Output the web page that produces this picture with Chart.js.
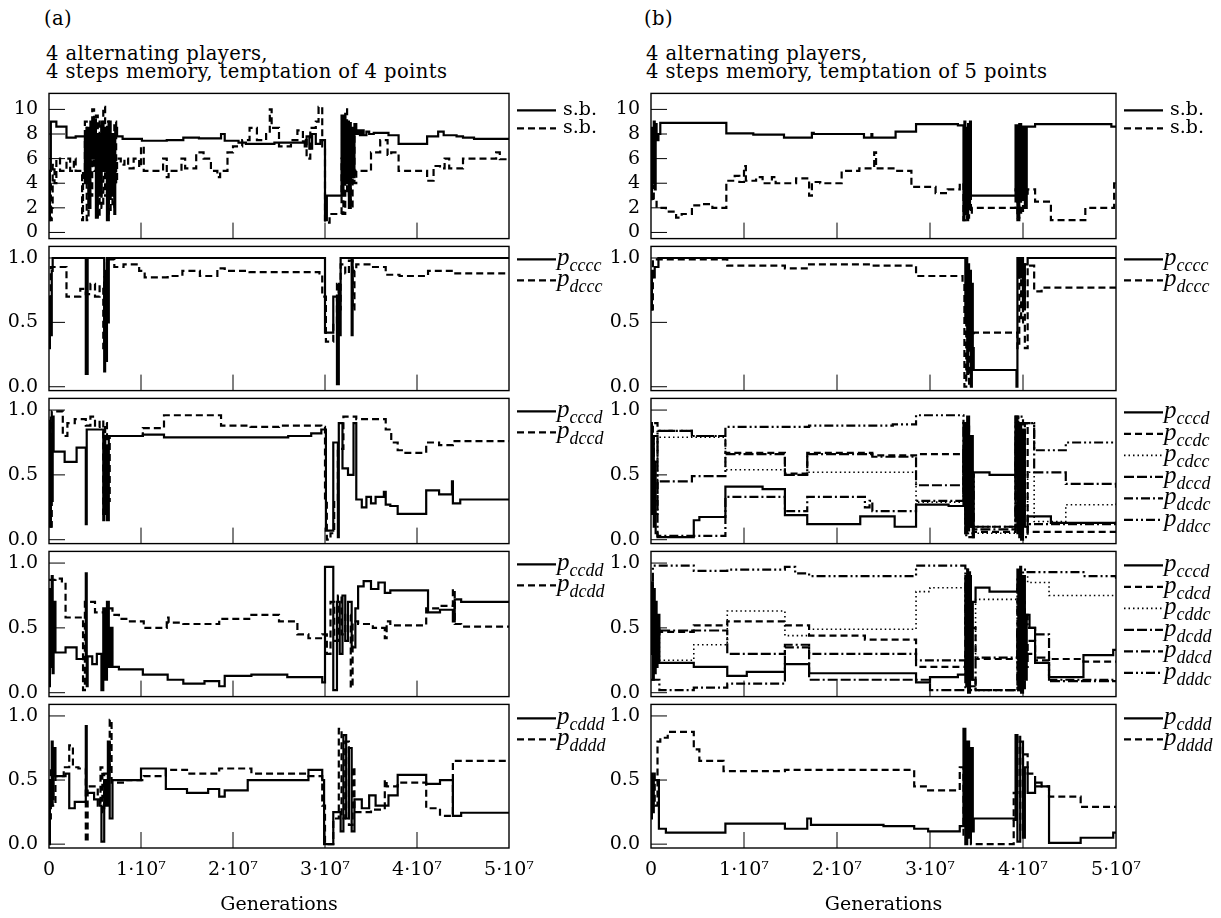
<!DOCTYPE html>
<html>
<head>
<meta charset="utf-8">
<script src="https://cdn.jsdelivr.net/npm/chart.js@4.4.0/dist/chart.umd.min.js"></script>
<style>
  body { margin: 0; background: #fff; width: 1221px; height: 918px; position: relative; overflow: hidden; }
  .hdr { position: absolute; font-family: "DejaVu Serif", serif; font-size: 19.5px; line-height: 20px; letter-spacing: 0.4px; color: #000; white-space: nowrap; }
  .panel { position: absolute; }
</style>
</head>
<body>
<div class="hdr" style="left:44px;top:9px">(a)</div>
<div class="hdr" style="left:46px;top:44px">4 alternating players,</div>
<div class="hdr" style="left:46px;top:62px">4 steps memory, temptation of 4 points</div>
<div class="hdr" style="left:644px;top:9px">(b)</div>
<div class="hdr" style="left:646px;top:44px">4 alternating players,</div>
<div class="hdr" style="left:646px;top:62px">4 steps memory, temptation of 5 points</div>

<script>
// generations are in units of 10^7
const genTicks = [0, 1, 2, 3, 4, 5];
const sbTicks = [0, 2, 4, 6, 8, 10];
const probTicks = [0, 0.5, 1];

// ---- column (a): temptation of 4 points ----
const sbSolidA = [[0,1],[0.01,5],[0.02,9],[0.08,8.6],[0.19,7.7],[0.29,7.8],[0.39,4],[0.41,8.5],[0.43,2],[0.45,9],[0.47,6],[0.49,9.2],[0.51,1.2],[0.53,8],[0.55,3],[0.57,9],[0.59,5],[0.61,8.5],[0.63,1],[0.65,9],[0.67,3],[0.69,8],[0.71,1.5],[0.72,8.5],[0.74,7.8],[0.8,7.6],[1.01,7.45],[1.28,7.5],[1.46,7.7],[1.63,7.65],[1.87,8.0],[1.91,7.45],[2.06,7.3],[2.14,7.2],[2.45,7.3],[2.76,7.4],[2.78,7],[2.8,7.8],[2.83,6.8],[2.86,8],[2.9,7.2],[2.95,7.5],[3.0,1],[3.02,3],[3.18,9.5],[3.19,3],[3.2,9.5],[3.22,4],[3.24,9],[3.26,2],[3.28,8.5],[3.3,4.5],[3.32,8.8],[3.34,8.0],[3.36,8.3],[3.38,7.9],[3.4,8.3],[3.42,7.9],[3.45,8.2],[3.48,8],[3.53,8.1],[3.69,7.9],[3.8,7.2],[4.11,7.8],[4.23,8.2],[4.29,7.9],[4.43,7.8],[4.5,7.7],[4.62,7.6],[5,7.6]];
const sbDashA = [[0,1.5],[0.01,4],[0.02,1],[0.03,2],[0.04,5.5],[0.06,4],[0.08,6],[0.12,5],[0.19,6],[0.23,5],[0.27,6],[0.29,5],[0.36,1],[0.37,5],[0.39,9],[0.41,1],[0.43,8],[0.45,3],[0.47,10],[0.49,5],[0.51,9.5],[0.53,1.2],[0.55,9],[0.57,2],[0.59,10.2],[0.61,3],[0.63,9],[0.65,1.5],[0.67,8],[0.69,2],[0.71,9],[0.73,4],[0.74,6],[0.78,5.5],[0.82,6],[0.86,5.2],[0.92,6],[0.98,5.3],[1.0,7],[1.03,5],[1.24,6],[1.28,4.5],[1.3,5],[1.44,6],[1.48,5.2],[1.6,6.5],[1.68,6],[1.76,5],[1.83,4.5],[1.86,5],[1.94,6.5],[2.0,7],[2.1,7.5],[2.18,8.5],[2.26,7.5],[2.36,8],[2.4,10],[2.42,8.5],[2.5,7],[2.63,7.5],[2.7,8.3],[2.76,7.5],[2.8,6],[2.84,8.5],[2.9,9],[2.93,10.2],[2.97,7],[3.0,0.8],[3.05,1.5],[3.18,6],[3.2,1.5],[3.22,10],[3.24,3],[3.26,9],[3.28,2],[3.3,8],[3.32,4],[3.34,5],[3.5,6.5],[3.6,7.5],[3.68,6.3],[3.72,6.5],[3.8,5],[4.11,4.2],[4.18,5.4],[4.25,5.2],[4.3,6],[4.35,5.2],[4.5,6],[4.86,6.5],[4.9,5.95],[5,5.95]];
const pccccA = [[0,0.3],[0.01,0.7],[0.02,0.4],[0.03,0.9],[0.04,1.0],[0.4,0.1],[0.42,1.0],[0.6,0.12],[0.61,0.9],[0.62,0.2],[0.63,1.0],[0.64,0.5],[0.65,1.0],[3.0,0.42],[3.09,0.7],[3.13,0.02],[3.15,0.8],[3.16,0.4],[3.17,1.0],[3.29,0.4],[3.3,1.0],[5,1.0]];
const pdcccA = [[0,0.5],[0.02,0.93],[0.19,0.7],[0.34,0.76],[0.4,0.72],[0.45,0.8],[0.5,0.7],[0.55,0.78],[0.59,0.3],[0.6,0.85],[0.63,0.99],[0.71,0.93],[0.81,0.95],[0.98,0.9],[1.04,0.85],[1.29,0.86],[1.45,0.9],[1.64,0.86],[1.83,0.92],[1.91,0.9],[2.18,0.89],[2.94,0.88],[2.97,0.7],[3.01,0.35],[3.09,0.5],[3.13,0.8],[3.15,0.6],[3.17,0.95],[3.22,0.88],[3.26,0.98],[3.3,0.6],[3.32,0.9],[3.34,0.95],[3.5,0.93],[3.66,0.87],[3.81,0.86],[4.12,0.9],[4.39,0.88],[5,0.88]];
const pcccdA = [[0,0.9],[0.01,0.1],[0.02,0.8],[0.03,0.3],[0.04,0.95],[0.05,0.68],[0.17,0.6],[0.3,0.71],[0.4,0.12],[0.41,0.85],[0.59,0.15],[0.6,0.8],[0.61,0.2],[0.62,0.7],[0.63,0.15],[0.65,0.8],[1.02,0.81],[1.25,0.79],[2.6,0.8],[2.85,0.82],[2.96,0.85],[3.01,0.07],[3.09,0.75],[3.14,0.02],[3.15,0.9],[3.19,0.55],[3.25,0.5],[3.31,0.9],[3.34,0.31],[3.4,0.25],[3.45,0.33],[3.5,0.28],[3.55,0.33],[3.64,0.37],[3.66,0.27],[3.71,0.26],[3.79,0.2],[4.1,0.38],[4.24,0.35],[4.38,0.45],[4.39,0.28],[4.47,0.31],[5,0.31]];
const pdccdA = [[0,0.2],[0.01,0.95],[0.02,0.1],[0.03,0.99],[0.15,0.8],[0.2,0.9],[0.28,0.93],[0.4,0.88],[0.45,0.95],[0.5,0.87],[0.55,0.92],[0.59,0.2],[0.61,0.9],[0.63,0.3],[0.66,0.8],[1.02,0.86],[1.25,0.96],[1.87,0.88],[2.19,0.87],[2.5,0.88],[2.96,0.87],[3.0,0.3],[3.02,0.0],[3.06,0.05],[3.1,0.3],[3.14,0.7],[3.2,0.95],[3.34,0.93],[3.66,0.85],[3.72,0.75],[3.79,0.69],[3.85,0.67],[4.1,0.75],[4.24,0.73],[4.39,0.76],[5,0.76]];
const pccddA = [[0,0.05],[0.01,0.8],[0.02,0.2],[0.03,0.9],[0.04,0.15],[0.05,0.7],[0.07,0.31],[0.18,0.35],[0.3,0.26],[0.4,0.92],[0.41,0.05],[0.42,0.28],[0.47,0.22],[0.52,0.3],[0.57,0.02],[0.59,0.65],[0.61,0.1],[0.63,0.7],[0.65,0.2],[0.67,0.5],[0.69,0.2],[0.76,0.18],[1.02,0.14],[1.29,0.1],[1.46,0.07],[1.69,0.09],[1.85,0.05],[1.91,0.13],[2.2,0.14],[2.59,0.12],[2.97,0.08],[3.0,0.97],[3.09,0.02],[3.13,0.7],[3.16,0.3],[3.19,0.75],[3.22,0.4],[3.25,0.7],[3.29,0.35],[3.33,0.65],[3.36,0.82],[3.42,0.86],[3.5,0.8],[3.58,0.85],[3.65,0.77],[3.71,0.79],[4.12,0.62],[4.25,0.64],[4.39,0.55],[4.41,0.72],[4.48,0.7],[5,0.7]];
const pdcddA = [[0,0.87],[0.07,0.88],[0.14,0.85],[0.18,0.58],[0.37,0.02],[0.39,0.7],[0.5,0.62],[0.65,0.65],[0.69,0.6],[0.76,0.57],[0.88,0.55],[1.03,0.5],[1.28,0.58],[1.3,0.54],[1.46,0.53],[1.85,0.57],[2.2,0.6],[2.5,0.55],[2.7,0.45],[2.82,0.42],[2.97,0.45],[3.02,0.3],[3.06,0.7],[3.1,0.4],[3.14,0.75],[3.18,0.45],[3.22,0.6],[3.28,0.04],[3.3,0.55],[3.36,0.53],[3.52,0.5],[3.65,0.42],[3.67,0.55],[3.71,0.52],[4.1,0.65],[4.25,0.67],[4.39,0.8],[4.41,0.53],[4.48,0.51],[5,0.51]];
const pcdddA = [[0,0.0],[0.01,0.5],[0.02,0.3],[0.03,0.8],[0.04,0.35],[0.05,0.75],[0.07,0.53],[0.18,0.55],[0.22,0.28],[0.28,0.33],[0.4,0.92],[0.41,0.4],[0.49,0.35],[0.55,0.3],[0.57,0.02],[0.6,0.5],[0.62,0.3],[0.64,0.8],[0.66,0.2],[0.69,0.5],[1.0,0.59],[1.27,0.43],[1.5,0.4],[1.73,0.43],[1.85,0.37],[1.91,0.42],[2.16,0.5],[2.82,0.58],[2.97,0.5],[2.99,0.0],[3.09,0.25],[3.17,0.1],[3.2,0.85],[3.23,0.2],[3.26,0.75],[3.29,0.1],[3.32,0.35],[3.4,0.28],[3.48,0.38],[3.55,0.3],[3.65,0.3],[3.69,0.38],[3.79,0.54],[4.1,0.47],[4.25,0.5],[4.39,0.22],[4.48,0.245],[5,0.245]];
const pddddA = [[0,0.2],[0.02,0.6],[0.04,0.3],[0.07,0.53],[0.16,0.6],[0.22,0.77],[0.26,0.6],[0.32,0.59],[0.4,0.02],[0.42,0.45],[0.53,0.3],[0.56,0.6],[0.58,0.25],[0.6,0.55],[0.66,0.97],[0.68,0.48],[0.84,0.5],[1.03,0.53],[1.27,0.58],[1.5,0.55],[1.85,0.59],[2.2,0.55],[2.82,0.53],[2.97,0.3],[3.0,0.0],[3.09,0.2],[3.15,0.9],[3.18,0.2],[3.22,0.8],[3.26,0.15],[3.3,0.6],[3.32,0.25],[3.5,0.27],[3.65,0.5],[3.67,0.45],[3.79,0.48],[4.1,0.28],[4.25,0.22],[4.39,0.65],[5,0.65]];

// ---- column (b): temptation of 5 points ----
const sbSolidB = [[0,3.2],[0.01,8.5],[0.02,4],[0.03,9],[0.04,3.5],[0.05,8.8],[0.06,7.5],[0.08,8],[0.1,8.9],[0.81,8.05],[1.1,7.95],[1.43,7.7],[1.73,8.1],[1.75,8.0],[2.29,7.7],[2.37,8.0],[2.38,7.7],[2.63,8.2],[2.85,8.8],[3.3,8.7],[3.36,1.0],[3.37,9],[3.38,1.5],[3.39,8.5],[3.4,1],[3.41,8.8],[3.42,2],[3.43,9],[3.44,3],[3.45,3.0],[3.92,8.7],[3.94,1.2],[3.96,8.8],[3.98,3],[4.0,8.6],[4.02,2],[4.04,8.6],[4.13,8.8],[4.95,8.6],[5,8.6]];
const sbDashB = [[0,4],[0.01,2.5],[0.02,3.8],[0.03,2.6],[0.06,2.0],[0.16,1.7],[0.27,1.2],[0.33,1.5],[0.44,2.2],[0.53,2.3],[0.66,2.0],[0.81,4.2],[0.9,4.6],[0.95,4.1],[1.0,5.4],[1.02,4.2],[1.13,4.5],[1.2,4.0],[1.3,4.5],[1.34,4.0],[1.56,4.4],[1.7,3.0],[1.73,4.1],[1.82,4.0],[2.05,5.0],[2.24,5.2],[2.4,6.5],[2.42,5.2],[2.63,5.0],[2.8,3.7],[3.06,3.2],[3.19,3.5],[3.32,4.0],[3.36,1],[3.38,8],[3.4,1.2],[3.42,6],[3.44,1.5],[3.45,2.0],[3.92,3.5],[3.94,1.0],[3.96,4.0],[3.98,1.5],[4.0,3.0],[4.05,3.5],[4.13,2.5],[4.3,1.0],[4.67,2.0],[4.98,4.0],[5,4.0]];
const pccccB = [[0,0.6],[0.01,0.9],[0.02,0.85],[0.04,0.93],[0.08,1.0],[3.38,0.5],[3.39,1],[3.4,0.1],[3.41,0.95],[3.42,0.3],[3.43,0.9],[3.44,0.0],[3.45,0.8],[3.46,0.3],[3.47,0.13],[3.93,0.0],[3.94,1.0],[3.96,0.85],[3.98,1.0],[4.0,0.6],[4.02,0.95],[4.05,1.0],[5,1.0]];
const pdcccB = [[0,0.6],[0.02,0.99],[0.82,0.94],[1.44,0.92],[1.7,0.95],[2.38,0.94],[2.85,0.86],[3.35,0.8],[3.37,0.0],[3.39,0.6],[3.42,0.0],[3.44,0.4],[3.47,0.42],[3.94,0.3],[3.96,1.0],[3.98,0.5],[4.0,0.95],[4.02,0.3],[4.05,0.94],[4.12,0.74],[4.2,0.77],[5,0.76]];
const pcccdB = [[0,0.9],[0.01,0.2],[0.02,0.8],[0.03,0.1],[0.04,0.6],[0.05,0.05],[0.07,0.02],[0.46,0.15],[0.52,0.175],[0.8,0.41],[1.2,0.39],[1.44,0.19],[1.68,0.12],[2.25,0.18],[2.62,0.1],[2.85,0.27],[3.2,0.26],[3.36,0.9],[3.38,0.05],[3.4,0.95],[3.42,0.1],[3.44,0.8],[3.46,0.02],[3.47,0.52],[3.64,0.5],[3.92,0.95],[3.94,0.05],[3.96,0.9],[3.98,0.0],[4.0,0.85],[4.02,0.1],[4.05,0.18],[4.3,0.13],[5,0.14]];
const pccdcB = [[0,0.5],[0.02,0.9],[0.07,0.84],[0.44,0.8],[0.8,0.67],[1.44,0.51],[1.68,0.67],[2.38,0.65],[2.85,0.66],[3.36,0.3],[3.39,0.9],[3.42,0.05],[3.47,0.06],[3.92,0.8],[3.94,0.1],[4.0,0.9],[4.05,0.06],[5,0.06]];
const pcdccB = [[0,0.3],[0.07,0.79],[0.8,0.54],[1.44,0.5],[1.68,0.52],[2.85,0.29],[3.36,0.6],[3.4,0.1],[3.47,0.05],[3.92,0.5],[3.96,0.1],[4.05,0.52],[4.12,0.14],[4.46,0.27],[5,0.29]];
const pdccdB = [[0,0.7],[0.02,0.2],[0.07,0.45],[0.44,0.49],[0.8,0.66],[1.44,0.5],[1.68,0.66],[2.38,0.64],[2.85,0.42],[3.36,0.9],[3.38,0.1],[3.47,0.08],[3.92,0.95],[3.95,0.2],[4.02,0.9],[4.12,0.52],[4.46,0.43],[5,0.4]];
const pdcdcB = [[0,0.4],[0.03,0.8],[0.07,0.03],[0.8,0.33],[1.44,0.22],[1.68,0.33],[2.3,0.25],[2.35,0.3],[2.38,0.22],[2.62,0.22],[2.85,0.3],[3.36,0.7],[3.39,0.02],[3.47,0.1],[3.92,0.7],[3.96,0.02],[4.05,0.12],[5,0.13]];
const pddccB = [[0,0.6],[0.07,0.84],[0.44,0.8],[0.8,0.87],[1.7,0.88],[2.6,0.89],[2.85,0.96],[3.36,0.9],[3.38,0.05],[3.41,0.5],[3.47,0.1],[3.92,0.9],[3.95,0.95],[4.0,0.9],[4.12,0.69],[4.46,0.75],[5,0.75]];
const pcccd4B = [[0,0.3],[0.01,0.85],[0.02,0.1],[0.03,0.8],[0.04,0.15],[0.05,0.7],[0.06,0.2],[0.07,0.6],[0.09,0.23],[0.46,0.2],[0.82,0.13],[1.03,0.16],[1.44,0.22],[1.7,0.15],[2.4,0.15],[2.85,0.08],[3.0,0.12],[3.3,0.14],[3.38,0.9],[3.39,0.05],[3.4,0.95],[3.41,0.0],[3.43,0.9],[3.44,0.1],[3.46,0.7],[3.49,0.81],[3.64,0.78],[3.94,0.95],[3.95,0.02],[3.97,0.97],[3.98,0.0],[4.0,0.9],[4.02,0.1],[4.04,0.6],[4.07,0.5],[4.13,0.23],[4.28,0.12],[4.65,0.29],[4.97,0.33],[5,0.33]];
const pcdcdB = [[0,0.4],[0.02,0.5],[0.09,0.47],[0.46,0.52],[0.82,0.55],[1.44,0.52],[1.7,0.44],[2.3,0.41],[2.85,0.2],[3.38,0.6],[3.4,0.1],[3.43,0.5],[3.49,0.26],[3.94,0.8],[3.96,0.1],[3.99,0.7],[4.02,0.2],[4.05,0.4],[4.13,0.25],[4.28,0.26],[4.65,0.24],[5,0.24]];
const pcddcB = [[0,0.5],[0.09,0.25],[0.46,0.37],[0.82,0.63],[1.44,0.44],[1.7,0.49],[2.85,0.78],[3.0,0.81],[3.38,0.5],[3.41,0.9],[3.44,0.3],[3.49,0.72],[3.94,0.6],[3.97,0.2],[4.0,0.9],[4.05,0.85],[4.13,0.85],[4.28,0.75],[5,0.75]];
const pdcddB = [[0,0.45],[0.09,0.48],[0.82,0.3],[1.44,0.37],[1.7,0.1],[2.85,0.1],[3.0,0.02],[3.38,0.3],[3.42,0.05],[3.49,0.02],[3.94,0.5],[3.97,0.02],[4.0,0.6],[4.05,0.5],[4.13,0.45],[4.28,0.09],[5,0.09]];
const pddcdB = [[0,0.1],[0.09,0.02],[0.46,0.04],[0.82,0.07],[1.44,0.35],[1.7,0.3],[2.85,0.25],[3.38,0.2],[3.42,0.02],[3.49,0.27],[3.94,0.5],[3.97,0.02],[4.02,0.3],[4.13,0.27],[4.28,0.1],[5,0.1]];
const pdddcB = [[0,0.7],[0.02,0.98],[0.46,0.94],[0.82,0.95],[1.44,0.97],[1.55,0.92],[1.7,0.9],[2.85,0.98],[3.38,0.5],[3.4,0.95],[3.43,0.1],[3.49,0.02],[3.94,0.9],[3.97,0.1],[4.0,0.95],[4.05,0.93],[4.65,0.9],[5,0.88]];
const pcdddB = [[0,0.2],[0.01,0.55],[0.02,0.25],[0.03,0.5],[0.05,0.5],[0.085,0.12],[0.16,0.09],[0.8,0.16],[1.44,0.12],[1.68,0.2],[1.72,0.15],[2.5,0.14],[2.83,0.12],[2.98,0.1],[3.32,0.14],[3.36,0.9],[3.38,0.0],[3.4,0.8],[3.42,0.05],[3.44,0.75],[3.46,0.1],[3.47,0.2],[3.9,0.19],[3.92,0.85],[3.94,0.02],[3.97,0.8],[4.0,0.05],[4.02,0.6],[4.05,0.4],[4.13,0.48],[4.2,0.45],[4.28,0.01],[4.62,0.05],[4.97,0.09],[5,0.09]];
const pddddB = [[0,0.4],[0.02,0.55],[0.04,0.3],[0.07,0.8],[0.1,0.83],[0.18,0.875],[0.46,0.74],[0.52,0.65],[0.78,0.57],[1.44,0.58],[2.83,0.45],[2.98,0.42],[3.32,0.6],[3.36,0.05],[3.4,0.5],[3.44,0.0],[3.47,0.0],[3.9,0.4],[3.94,0.85],[3.97,0.1],[4.0,0.7],[4.05,0.55],[4.13,0.45],[4.28,0.37],[4.62,0.29],[5,0.29]];

// line styles
const SOLID = [], DASH = [7, 4], DOT = [1.5, 3], LDASH = [10, 3, 10, 3, 2, 3], DDOT = [9, 3, 2, 3], D2DOT = [9, 3, 2, 3, 2, 3];

const rowTop = [93, 246, 398, 551, 704];
const rowBottom = [238, 390, 543, 696, 848];
const colLeft = [0, 600];
const colWidth = [620, 621];
const axisWidth = [49, 51];
const padRight = [111, 105];

const serif = '"DejaVu Serif", serif';

const framePlugin = {
  id: 'frame',
  afterDatasetsDraw(chart, args, opts) {
    const { ctx, chartArea: a, scales } = chart;
    ctx.save();
    ctx.strokeStyle = '#000';
    ctx.fillStyle = '#000';
    ctx.lineWidth = 1.4;
    ctx.strokeRect(a.left, a.top, a.right - a.left, a.bottom - a.top);
    ctx.lineWidth = 1;
    scales.y.ticks.forEach(t => {
      const y = scales.y.getPixelForValue(t.value);
      ctx.beginPath(); ctx.moveTo(a.left, y); ctx.lineTo(a.left + 16, y); ctx.stroke();
    });
    scales.x.ticks.forEach(t => {
      if (t.value <= 0 || t.value >= 5) return;
      const x = scales.x.getPixelForValue(t.value);
      ctx.beginPath(); ctx.moveTo(x, a.bottom); ctx.lineTo(x, a.bottom - 16); ctx.stroke();
    });
    // legend to the right of the frame
    chart.data.datasets.forEach((ds, i) => {
      const y = a.top + opts.first + i * opts.step;
      ctx.setLineDash(ds.borderDash);
      ctx.lineWidth = ds.borderWidth;
      ctx.beginPath(); ctx.moveTo(a.right + 8, y); ctx.lineTo(a.right + 47, y); ctx.stroke();
      ctx.setLineDash([]);
      if (ds.label.startsWith('p_')) {
        ctx.textBaseline = 'alphabetic';
        ctx.font = 'italic 25px "Liberation Serif"';
        ctx.fillText('p', a.right + 48, y + 6);
        const w = ctx.measureText('p').width;
        ctx.font = 'italic 18px "Liberation Serif"';
        ctx.fillText(ds.label.slice(2), a.right + 48 + w, y + 12);
      } else {
        ctx.textBaseline = 'middle';
        ctx.font = '19px ' + serif;
        ctx.fillText(ds.label, a.right + 54, y);
      }
    });
    ctx.restore();
  }
};

function panelConfig(col, last, series, yMin, yMax, yTicks, legendFirst, legendStep) {
  const tickFont = { family: serif, size: 19 };
  return {
    type: 'line',
    data: {
      datasets: series.map(s => ({
        label: s.label,
        data: s.data.map(([x, y]) => ({ x, y })),
        borderColor: '#000',
        borderWidth: s.dash === DOT ? 1.6 : 2.2,
        borderDash: s.dash,
        stepped: true,
        pointRadius: 0,
        fill: false
      }))
    },
    options: {
      responsive: false,
      maintainAspectRatio: false,
      animation: false,
      layout: { padding: { top: 2, bottom: last ? 0 : 2, left: 0, right: padRight[col] } },
      plugins: {
        legend: { display: false },
        tooltip: { enabled: false },
        frame: { first: legendFirst, step: legendStep }
      },
      scales: {
        x: {
          type: 'linear',
          min: 0,
          max: 5,
          grid: { display: false, drawTicks: false },
          border: { display: false },
          afterBuildTicks: s => { s.ticks = genTicks.map(v => ({ value: v })); },
          afterFit: s => { s.height = last ? 70 : 0; },
          ticks: {
            display: last,
            autoSkip: false,
            maxRotation: 0,
            padding: 11,
            color: '#000',
            font: tickFont,
            callback: v => v === 0 ? '0' : v + '·10⁷'
          },
          title: {
            display: last,
            text: 'Generations',
            color: '#000',
            font: { family: serif, size: 19 },
            padding: { top: 0, bottom: 2 }
          }
        },
        y: {
          type: 'linear',
          min: yMin,
          max: yMax,
          grid: { display: false, drawTicks: false },
          border: { display: false },
          afterBuildTicks: s => { s.ticks = yTicks.map(v => ({ value: v })); },
          afterFit: s => { s.width = axisWidth[col]; },
          ticks: {
            padding: 11,
            color: '#000',
            font: tickFont,
            callback: v => yTicks === sbTicks ? String(v) : v.toFixed(1)
          }
        }
      }
    },
    plugins: [framePlugin]
  };
}

function makeCanvas(div, col, h) {
  const canvas = document.createElement('canvas');
  canvas.width = colWidth[col];
  canvas.height = h;
  canvas.style.width = colWidth[col] + 'px';
  canvas.style.height = h + 'px';
  canvas.style.display = 'block';
  div.appendChild(canvas);
  return canvas;
}

function makePanel(col, row, series, yMin, yMax, yTicks, legendFirst, legendStep) {
  const last = row === 4;
  const want = rowBottom[row] - rowTop[row];
  let h = last ? want + 90 : want + 30;
  const div = document.createElement('div');
  div.className = 'panel';
  div.style.left = colLeft[col] + 'px';
  document.body.appendChild(div);

  let canvas = makeCanvas(div, col, h);
  let chart = new Chart(canvas, panelConfig(col, last, series, yMin, yMax, yTicks, legendFirst, legendStep));
  // fit the canvas so the plot frame lands exactly on its row
  const got = chart.chartArea.bottom - chart.chartArea.top;
  if (Math.abs(got - want) > 0.25) {
    chart.destroy();
    canvas.remove();
    h += want - got;
    canvas = makeCanvas(div, col, Math.round(h));
    chart = new Chart(canvas, panelConfig(col, last, series, yMin, yMax, yTicks, legendFirst, legendStep));
  }
  div.style.top = (rowTop[row] - chart.chartArea.top) + 'px';
}

const P = (a, b, c) => ({ label: a, data: b, dash: c });

// column (b) first, so column (a) legends sit on top where the canvases overlap
makePanel(1, 0, [P('s.b.', sbSolidB, SOLID), P('s.b.', sbDashB, DASH)], -0.5, 11.3, sbTicks, 17, 18);
makePanel(1, 1, [P('p_cccc', pccccB, SOLID), P('p_dccc', pdcccB, DASH)], -0.03, 1.09, probTicks, 13, 21);
makePanel(1, 2, [P('p_cccd', pcccdB, SOLID), P('p_ccdc', pccdcB, DASH), P('p_cdcc', pcdccB, DOT),
                 P('p_dccd', pdccdB, LDASH), P('p_dcdc', pdcdcB, DDOT), P('p_ddcc', pddccB, D2DOT)],
          -0.03, 1.09, probTicks, 14, 21.5);
makePanel(1, 3, [P('p_cccd', pcccd4B, SOLID), P('p_cdcd', pcdcdB, DASH), P('p_cddc', pcddcB, DOT),
                 P('p_dcdd', pdcddB, LDASH), P('p_ddcd', pddcdB, DDOT), P('p_dddc', pdddcB, D2DOT)],
          -0.03, 1.09, probTicks, 14, 21.5);
makePanel(1, 4, [P('p_cddd', pcdddB, SOLID), P('p_dddd', pddddB, DASH)], -0.03, 1.09, probTicks, 14, 21);

// column (a)
makePanel(0, 0, [P('s.b.', sbSolidA, SOLID), P('s.b.', sbDashA, DASH)], -0.5, 11.3, sbTicks, 17, 18);
makePanel(0, 1, [P('p_cccc', pccccA, SOLID), P('p_dccc', pdcccA, DASH)], -0.03, 1.09, probTicks, 13, 21);
makePanel(0, 2, [P('p_cccd', pcccdA, SOLID), P('p_dccd', pdccdA, DASH)], -0.03, 1.09, probTicks, 13, 21);
makePanel(0, 3, [P('p_ccdd', pccddA, SOLID), P('p_dcdd', pdcddA, DASH)], -0.03, 1.09, probTicks, 13, 21);
makePanel(0, 4, [P('p_cddd', pcdddA, SOLID), P('p_dddd', pddddA, DASH)], -0.03, 1.09, probTicks, 14, 21);
</script>
</body>
</html>
